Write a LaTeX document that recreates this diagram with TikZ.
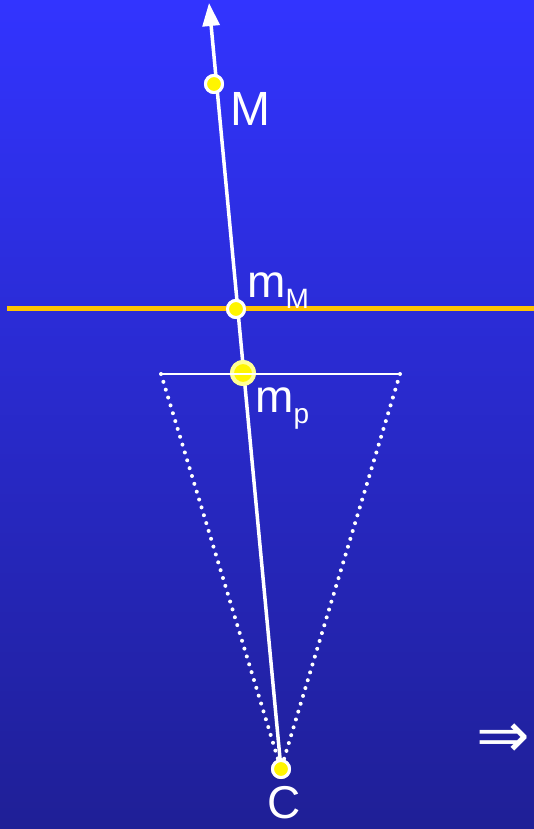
\documentclass[tikz,border=0pt]{standalone}
\usepackage{fontspec}
\setmainfont{Liberation Sans}
\newfontfamily\symfont{DejaVu Sans}
\usetikzlibrary{arrows.meta, positioning}
\definecolor{bgtop}{RGB}{50,52,255}
\definecolor{bgbot}{RGB}{31,31,150}
\definecolor{horizon}{RGB}{255,196,0}
\definecolor{dotyellow}{RGB}{255,245,0}
\definecolor{paleyellow}{RGB}{255,255,150}
\tikzstyle{ray}      = [line width=3.5pt, white]
\tikzstyle{arrow}    = [ray, -{Triangle[width=17pt,length=23pt]}]
\tikzstyle{point}    = [circle, draw=white, line width=3pt, fill=dotyellow, minimum size=17pt, inner sep=0pt]
\tikzstyle{ppoint}   = [circle, draw=paleyellow, line width=4pt, fill=dotyellow, minimum size=22pt, inner sep=0pt]
\tikzstyle{lbl}      = [white, inner sep=0pt, anchor=base west, font=\fontsize{46}{50}\selectfont]
\tikzstyle{cone}     = [white, line width=4pt, line cap=round, dash pattern=on 0pt off 8.2pt]
\newcommand{\sub}[1]{\raisebox{-11pt}{\fontsize{28}{30}\selectfont #1}}

\begin{document}
\begin{tikzpicture}[x=1pt, y=-1pt]

% pozadí
\shade[top color=bgtop, bottom color=bgbot] (0,0) rectangle (534,829);
\useasboundingbox (0,0) rectangle (534,829);

% body na paprsku
\coordinate (tip) at (209,3);
\node[point] (M)  at (214,84)  {};
\node[point] (mM) at (236,309) {};
\node[ppoint] (mp) at (243,373) {};
\node[point] (C)  at (281,769) {};

% rovina obrazu
\coordinate (pl) at (161,374);
\coordinate (pr) at (400,374);
\coordinate (hl) at (7,308);
\coordinate (hr) at (534,308);

% kužel
\draw[cone] (pl) -- (C);
\draw[cone] (pr) -- (C);

% paprsek
\draw[arrow] (C) -- (tip);
\draw[line width=5pt, horizon] (hl) -- (hr);

\node[point] at (mM) {};
\node[ppoint] at (mp) {};
\node[point] at (M) {};
\node[point] at (C) {};
\draw[white, line width=1.3pt] (pl) -- (pr);

% popisky
\node[lbl, font=\fontsize{48}{50}\selectfont] (lM) at (230,126) {M};
\node[lbl] (lmM) at (247,297) {m\sub{M}};
\node[lbl] (lmp) at (255,412) {m\sub{p}};
\node[lbl, anchor=base] (lC) at (284,818) {C};
\node[white, inner sep=0pt] (impl) at (503,741) {\symfont\fontsize{64}{66}\selectfont ⇒};

\end{tikzpicture}
\end{document}
